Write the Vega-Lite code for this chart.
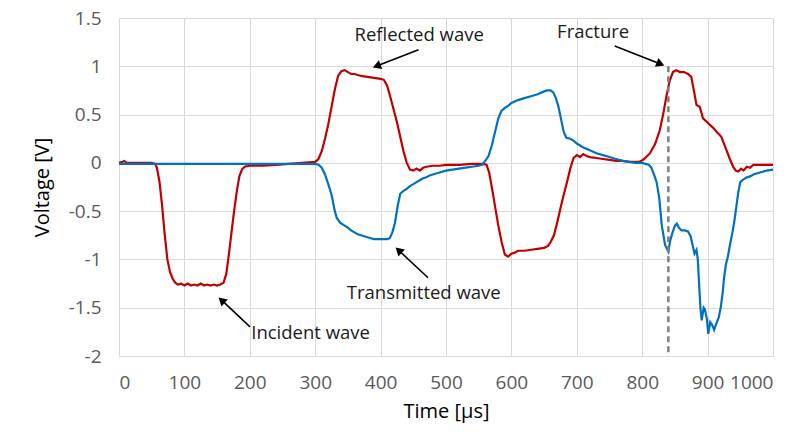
{
  "$schema": "https://vega.github.io/schema/vega-lite/v6.json",
  "width": 654,
  "height": 338,
  "autosize": {"type": "none"},
  "padding": {"left": 119, "top": 18, "right": 34, "bottom": 83},
  "background": "white",
  "config": {
    "view": {"stroke": null},
    "font": "Open Sans",
    "axis": {
      "grid": true,
      "gridColor": "#d9d9d9",
      "gridWidth": 1,
      "domainColor": "#d9d9d9",
      "domainWidth": 1,
      "ticks": false,
      "labelFont": "Open Sans",
      "labelFontSize": 19,
      "labelColor": "#595959",
      "titleFont": "Open Sans",
      "titleFontSize": 20,
      "titleFontWeight": "normal",
      "titleColor": "#000000"
    }
  },
  "datasets": {
    "waves": [
      {"t":0,"v":0.0,"s":"R"},{"t":5,"v":0.01,"s":"R"},{"t":8,"v":0.02,"s":"R"},{"t":12,"v":0.0,"s":"R"},{"t":30,"v":0.0,"s":"R"},{"t":50,"v":0.0,"s":"R"},{"t":55,"v":-0.01,"s":"R"},{"t":58,"v":-0.05,"s":"R"},{"t":62,"v":-0.2,"s":"R"},{"t":66,"v":-0.45,"s":"R"},{"t":70,"v":-0.75,"s":"R"},{"t":74,"v":-1.0,"s":"R"},{"t":78,"v":-1.13,"s":"R"},{"t":82,"v":-1.2,"s":"R"},{"t":86,"v":-1.24,"s":"R"},{"t":90,"v":-1.26,"s":"R"},{"t":95,"v":-1.25,"s":"R"},{"t":100,"v":-1.27,"s":"R"},{"t":105,"v":-1.25,"s":"R"},{"t":110,"v":-1.27,"s":"R"},{"t":115,"v":-1.26,"s":"R"},{"t":120,"v":-1.27,"s":"R"},{"t":125,"v":-1.25,"s":"R"},{"t":130,"v":-1.27,"s":"R"},{"t":135,"v":-1.26,"s":"R"},{"t":140,"v":-1.27,"s":"R"},{"t":145,"v":-1.26,"s":"R"},{"t":150,"v":-1.27,"s":"R"},{"t":155,"v":-1.26,"s":"R"},{"t":160,"v":-1.24,"s":"R"},{"t":164,"v":-1.15,"s":"R"},{"t":168,"v":-0.95,"s":"R"},{"t":172,"v":-0.72,"s":"R"},{"t":176,"v":-0.5,"s":"R"},{"t":180,"v":-0.3,"s":"R"},{"t":184,"v":-0.14,"s":"R"},{"t":188,"v":-0.07,"s":"R"},{"t":192,"v":-0.04,"s":"R"},{"t":200,"v":-0.03,"s":"R"},{"t":220,"v":-0.03,"s":"R"},{"t":240,"v":-0.02,"s":"R"},{"t":260,"v":-0.01,"s":"R"},{"t":280,"v":0.0,"s":"R"},{"t":300,"v":0.01,"s":"R"},{"t":305,"v":0.04,"s":"R"},{"t":310,"v":0.12,"s":"R"},{"t":315,"v":0.25,"s":"R"},{"t":320,"v":0.4,"s":"R"},{"t":325,"v":0.58,"s":"R"},{"t":330,"v":0.76,"s":"R"},{"t":335,"v":0.9,"s":"R"},{"t":340,"v":0.95,"s":"R"},{"t":345,"v":0.96,"s":"R"},{"t":350,"v":0.94,"s":"R"},{"t":355,"v":0.92,"s":"R"},{"t":360,"v":0.92,"s":"R"},{"t":370,"v":0.9,"s":"R"},{"t":380,"v":0.89,"s":"R"},{"t":390,"v":0.88,"s":"R"},{"t":400,"v":0.87,"s":"R"},{"t":405,"v":0.86,"s":"R"},{"t":410,"v":0.8,"s":"R"},{"t":415,"v":0.68,"s":"R"},{"t":420,"v":0.55,"s":"R"},{"t":425,"v":0.42,"s":"R"},{"t":430,"v":0.27,"s":"R"},{"t":435,"v":0.12,"s":"R"},{"t":440,"v":0.0,"s":"R"},{"t":445,"v":-0.07,"s":"R"},{"t":450,"v":-0.08,"s":"R"},{"t":455,"v":-0.06,"s":"R"},{"t":460,"v":-0.08,"s":"R"},{"t":465,"v":-0.05,"s":"R"},{"t":470,"v":-0.04,"s":"R"},{"t":480,"v":-0.03,"s":"R"},{"t":490,"v":-0.03,"s":"R"},{"t":500,"v":-0.02,"s":"R"},{"t":520,"v":-0.02,"s":"R"},{"t":540,"v":-0.01,"s":"R"},{"t":555,"v":-0.01,"s":"R"},{"t":562,"v":-0.02,"s":"R"},{"t":566,"v":-0.1,"s":"R"},{"t":570,"v":-0.25,"s":"R"},{"t":575,"v":-0.45,"s":"R"},{"t":580,"v":-0.65,"s":"R"},{"t":585,"v":-0.82,"s":"R"},{"t":590,"v":-0.95,"s":"R"},{"t":595,"v":-0.97,"s":"R"},{"t":600,"v":-0.94,"s":"R"},{"t":605,"v":-0.93,"s":"R"},{"t":610,"v":-0.91,"s":"R"},{"t":620,"v":-0.91,"s":"R"},{"t":630,"v":-0.9,"s":"R"},{"t":640,"v":-0.89,"s":"R"},{"t":650,"v":-0.88,"s":"R"},{"t":656,"v":-0.86,"s":"R"},{"t":660,"v":-0.82,"s":"R"},{"t":665,"v":-0.75,"s":"R"},{"t":670,"v":-0.62,"s":"R"},{"t":675,"v":-0.47,"s":"R"},{"t":680,"v":-0.33,"s":"R"},{"t":685,"v":-0.2,"s":"R"},{"t":690,"v":-0.06,"s":"R"},{"t":695,"v":0.05,"s":"R"},{"t":700,"v":0.08,"s":"R"},{"t":705,"v":0.06,"s":"R"},{"t":710,"v":0.09,"s":"R"},{"t":715,"v":0.07,"s":"R"},{"t":720,"v":0.06,"s":"R"},{"t":730,"v":0.05,"s":"R"},{"t":740,"v":0.04,"s":"R"},{"t":750,"v":0.03,"s":"R"},{"t":760,"v":0.02,"s":"R"},{"t":770,"v":0.02,"s":"R"},{"t":780,"v":0.01,"s":"R"},{"t":795,"v":0.01,"s":"R"},{"t":801,"v":0.03,"s":"R"},{"t":806,"v":0.06,"s":"R"},{"t":812,"v":0.1,"s":"R"},{"t":820,"v":0.2,"s":"R"},{"t":827,"v":0.34,"s":"R"},{"t":832,"v":0.5,"s":"R"},{"t":837,"v":0.69,"s":"R"},{"t":842,"v":0.85,"s":"R"},{"t":847,"v":0.94,"s":"R"},{"t":852,"v":0.96,"s":"R"},{"t":858,"v":0.94,"s":"R"},{"t":864,"v":0.94,"s":"R"},{"t":870,"v":0.92,"s":"R"},{"t":875,"v":0.89,"s":"R"},{"t":879,"v":0.75,"s":"R"},{"t":883,"v":0.6,"s":"R"},{"t":888,"v":0.58,"s":"R"},{"t":893,"v":0.46,"s":"R"},{"t":898,"v":0.43,"s":"R"},{"t":904,"v":0.39,"s":"R"},{"t":909,"v":0.36,"s":"R"},{"t":914,"v":0.32,"s":"R"},{"t":921,"v":0.27,"s":"R"},{"t":925,"v":0.2,"s":"R"},{"t":929,"v":0.13,"s":"R"},{"t":934,"v":0.04,"s":"R"},{"t":939,"v":-0.04,"s":"R"},{"t":943,"v":-0.08,"s":"R"},{"t":947,"v":-0.09,"s":"R"},{"t":951,"v":-0.06,"s":"R"},{"t":955,"v":-0.08,"s":"R"},{"t":960,"v":-0.04,"s":"R"},{"t":965,"v":-0.05,"s":"R"},{"t":970,"v":-0.02,"s":"R"},{"t":980,"v":-0.02,"s":"R"},{"t":990,"v":-0.02,"s":"R"},{"t":1000,"v":-0.02,"s":"R"},
      {"t":0,"v":-0.01,"s":"B"},{"t":40,"v":-0.01,"s":"B"},{"t":80,"v":-0.01,"s":"B"},{"t":120,"v":-0.01,"s":"B"},{"t":160,"v":-0.01,"s":"B"},{"t":200,"v":-0.01,"s":"B"},{"t":240,"v":-0.01,"s":"B"},{"t":280,"v":-0.01,"s":"B"},{"t":300,"v":-0.01,"s":"B"},{"t":305,"v":-0.02,"s":"B"},{"t":310,"v":-0.05,"s":"B"},{"t":315,"v":-0.12,"s":"B"},{"t":320,"v":-0.22,"s":"B"},{"t":325,"v":-0.33,"s":"B"},{"t":330,"v":-0.5,"s":"B"},{"t":333,"v":-0.57,"s":"B"},{"t":338,"v":-0.62,"s":"B"},{"t":345,"v":-0.65,"s":"B"},{"t":350,"v":-0.67,"s":"B"},{"t":355,"v":-0.7,"s":"B"},{"t":360,"v":-0.72,"s":"B"},{"t":365,"v":-0.74,"s":"B"},{"t":370,"v":-0.75,"s":"B"},{"t":375,"v":-0.76,"s":"B"},{"t":380,"v":-0.77,"s":"B"},{"t":385,"v":-0.78,"s":"B"},{"t":390,"v":-0.79,"s":"B"},{"t":400,"v":-0.79,"s":"B"},{"t":410,"v":-0.79,"s":"B"},{"t":414,"v":-0.78,"s":"B"},{"t":418,"v":-0.72,"s":"B"},{"t":422,"v":-0.62,"s":"B"},{"t":426,"v":-0.45,"s":"B"},{"t":430,"v":-0.32,"s":"B"},{"t":435,"v":-0.29,"s":"B"},{"t":440,"v":-0.27,"s":"B"},{"t":445,"v":-0.24,"s":"B"},{"t":450,"v":-0.22,"s":"B"},{"t":455,"v":-0.2,"s":"B"},{"t":460,"v":-0.18,"s":"B"},{"t":465,"v":-0.16,"s":"B"},{"t":470,"v":-0.15,"s":"B"},{"t":475,"v":-0.13,"s":"B"},{"t":480,"v":-0.12,"s":"B"},{"t":490,"v":-0.1,"s":"B"},{"t":500,"v":-0.08,"s":"B"},{"t":510,"v":-0.07,"s":"B"},{"t":520,"v":-0.06,"s":"B"},{"t":530,"v":-0.05,"s":"B"},{"t":540,"v":-0.04,"s":"B"},{"t":550,"v":-0.03,"s":"B"},{"t":555,"v":-0.02,"s":"B"},{"t":560,"v":0.02,"s":"B"},{"t":565,"v":0.07,"s":"B"},{"t":570,"v":0.18,"s":"B"},{"t":575,"v":0.32,"s":"B"},{"t":580,"v":0.46,"s":"B"},{"t":585,"v":0.54,"s":"B"},{"t":590,"v":0.57,"s":"B"},{"t":595,"v":0.59,"s":"B"},{"t":600,"v":0.62,"s":"B"},{"t":610,"v":0.65,"s":"B"},{"t":620,"v":0.67,"s":"B"},{"t":630,"v":0.69,"s":"B"},{"t":640,"v":0.71,"s":"B"},{"t":650,"v":0.74,"s":"B"},{"t":655,"v":0.75,"s":"B"},{"t":660,"v":0.75,"s":"B"},{"t":664,"v":0.73,"s":"B"},{"t":668,"v":0.67,"s":"B"},{"t":672,"v":0.58,"s":"B"},{"t":676,"v":0.45,"s":"B"},{"t":680,"v":0.32,"s":"B"},{"t":684,"v":0.26,"s":"B"},{"t":690,"v":0.25,"s":"B"},{"t":695,"v":0.23,"s":"B"},{"t":700,"v":0.2,"s":"B"},{"t":705,"v":0.18,"s":"B"},{"t":710,"v":0.16,"s":"B"},{"t":720,"v":0.13,"s":"B"},{"t":730,"v":0.1,"s":"B"},{"t":740,"v":0.08,"s":"B"},{"t":750,"v":0.06,"s":"B"},{"t":760,"v":0.04,"s":"B"},{"t":770,"v":0.02,"s":"B"},{"t":780,"v":0.01,"s":"B"},{"t":790,"v":0.0,"s":"B"},{"t":800,"v":0.0,"s":"B"},{"t":805,"v":-0.01,"s":"B"},{"t":810,"v":-0.02,"s":"B"},{"t":814,"v":-0.05,"s":"B"},{"t":818,"v":-0.12,"s":"B"},{"t":822,"v":-0.2,"s":"B"},{"t":826,"v":-0.36,"s":"B"},{"t":830,"v":-0.65,"s":"B"},{"t":835,"v":-0.85,"s":"B"},{"t":840,"v":-0.92,"s":"B"},{"t":843,"v":-0.8,"s":"B"},{"t":846,"v":-0.73,"s":"B"},{"t":850,"v":-0.65,"s":"B"},{"t":853,"v":-0.63,"s":"B"},{"t":856,"v":-0.67,"s":"B"},{"t":860,"v":-0.7,"s":"B"},{"t":865,"v":-0.7,"s":"B"},{"t":870,"v":-0.71,"s":"B"},{"t":874,"v":-0.76,"s":"B"},{"t":877,"v":-0.85,"s":"B"},{"t":880,"v":-0.94,"s":"B"},{"t":883,"v":-0.9,"s":"B"},{"t":885,"v":-1.0,"s":"B"},{"t":887,"v":-1.25,"s":"B"},{"t":889,"v":-1.5,"s":"B"},{"t":891,"v":-1.63,"s":"B"},{"t":894,"v":-1.5,"s":"B"},{"t":896,"v":-1.52,"s":"B"},{"t":899,"v":-1.62,"s":"B"},{"t":901,"v":-1.77,"s":"B"},{"t":904,"v":-1.65,"s":"B"},{"t":907,"v":-1.68,"s":"B"},{"t":910,"v":-1.73,"s":"B"},{"t":913,"v":-1.67,"s":"B"},{"t":917,"v":-1.6,"s":"B"},{"t":920,"v":-1.5,"s":"B"},{"t":923,"v":-1.35,"s":"B"},{"t":925,"v":-1.2,"s":"B"},{"t":928,"v":-1.05,"s":"B"},{"t":931,"v":-0.97,"s":"B"},{"t":935,"v":-0.82,"s":"B"},{"t":938,"v":-0.72,"s":"B"},{"t":941,"v":-0.6,"s":"B"},{"t":944,"v":-0.45,"s":"B"},{"t":947,"v":-0.3,"s":"B"},{"t":950,"v":-0.2,"s":"B"},{"t":955,"v":-0.17,"s":"B"},{"t":960,"v":-0.15,"s":"B"},{"t":965,"v":-0.14,"s":"B"},{"t":970,"v":-0.12,"s":"B"},{"t":980,"v":-0.1,"s":"B"},{"t":990,"v":-0.08,"s":"B"},{"t":1000,"v":-0.07,"s":"B"}
    ],
    "labels": [
      {"t":459,"v":1.325,"text":"Reflected wave"},
      {"t":725,"v":1.35,"text":"Fracture"},
      {"t":466,"v":-1.35,"text":"Transmitted wave"},
      {"t":293,"v":-1.76,"text":"Incident wave"}
    ],
    "arrows": [
      {"t1":458,"v1":1.17,"t2":394,"v2":1.002,"angle":249},
      {"t1":758,"v1":1.211,"t2":828,"v2":1.024,"angle":112},
      {"t1":472.5,"v1":-1.19,"t2":427.6,"v2":-0.905,"angle":313},
      {"t1":200.3,"v1":-1.698,"t2":156.9,"v2":-1.422,"angle":313}
    ],
    "fracture": [{"t":840,"v1":1.0,"v2":-2}]
  },
  "layer": [
    {
      "data": {"name": "waves"},
      "transform": [{"filter": "datum.s === 'R'"}],
      "mark": {"type": "line", "color": "#c00000", "strokeWidth": 2.2},
      "encoding": {
        "x": {"field": "t", "type": "quantitative", "scale": {"domain": [0, 1000], "nice": false}, "axis": {"values": [0,100,200,300,400,500,600,700,800,900,1000], "labelExpr": "'' + datum.value", "title": "Time [µs]", "labelPadding": 17, "titlePadding": 9}},
        "y": {"field": "v", "type": "quantitative", "scale": {"domain": [-2, 1.5], "nice": false}, "axis": {"values": [-2,-1.5,-1,-0.5,0,0.5,1,1.5], "labelExpr": "'' + datum.value", "title": "Voltage [V]", "labelPadding": 18, "titlePadding": 16}},
        "order": {"field": "t", "type": "quantitative"}
      }
    },
    {
      "data": {"name": "waves"},
      "transform": [{"filter": "datum.s === 'B'"}],
      "mark": {"type": "line", "color": "#0070c0", "strokeWidth": 2.2},
      "encoding": {
        "x": {"field": "t", "type": "quantitative"},
        "y": {"field": "v", "type": "quantitative"},
        "order": {"field": "t", "type": "quantitative"}
      }
    },
    {
      "data": {"name": "fracture"},
      "mark": {"type": "rule", "color": "#7f7f7f", "strokeWidth": 2.5, "strokeDash": [6, 4]},
      "encoding": {
        "x": {"field": "t", "type": "quantitative"},
        "y": {"field": "v1", "type": "quantitative"},
        "y2": {"field": "v2"}
      }
    },
    {
      "data": {"name": "arrows"},
      "mark": {"type": "rule", "color": "#000000", "strokeWidth": 1.6},
      "encoding": {
        "x": {"field": "t1", "type": "quantitative"},
        "y": {"field": "v1", "type": "quantitative"},
        "x2": {"field": "t2"},
        "y2": {"field": "v2"}
      }
    },
    {
      "data": {"name": "arrows"},
      "mark": {"type": "point", "shape": "triangle-up", "filled": true, "color": "#000000", "size": 90, "opacity": 1},
      "encoding": {
        "x": {"field": "t2", "type": "quantitative"},
        "y": {"field": "v2", "type": "quantitative"},
        "angle": {"field": "angle", "type": "quantitative", "scale": null}
      }
    },
    {
      "data": {"name": "labels"},
      "mark": {"type": "text", "font": "Open Sans", "fontSize": 18.5, "color": "#1a1a1a", "align": "center", "baseline": "middle"},
      "encoding": {
        "x": {"field": "t", "type": "quantitative"},
        "y": {"field": "v", "type": "quantitative"},
        "text": {"field": "text"}
      }
    }
  ]
}
